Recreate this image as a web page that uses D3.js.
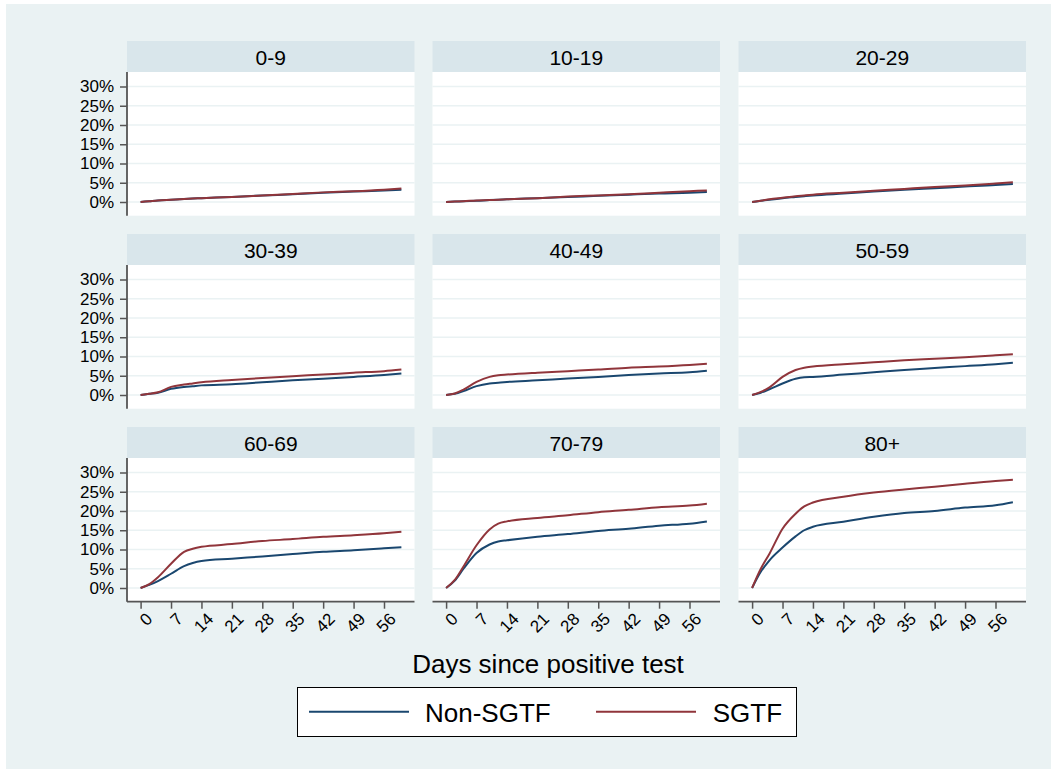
<!DOCTYPE html>
<html><head><meta charset="utf-8">
<script src="https://cdn.jsdelivr.net/npm/d3@7"></script>
<style>body{margin:0;background:#fff}svg{display:block}text{font-family:"Liberation Sans",Arial,sans-serif;fill:#000}</style>
</head><body>
<script>
const ageGroups = ["0-9","10-19","20-29","30-39","40-49","50-59","60-69","70-79","80+"];
const days = [0, 2, 4, 7, 10, 12, 14, 21, 28, 35, 42, 49, 56, 60];
const xTicks = [0, 7, 14, 21, 28, 35, 42, 49, 56];
const yTicks = [0, 5, 10, 15, 20, 25, 30];
const seriesNames = ["Non-SGTF", "SGTF"];
const nonSGTF = [
  [0, 0.2, 0.4, 0.6, 0.8, 0.9, 1.0, 1.3, 1.7, 2.0, 2.4, 2.7, 3.0, 3.2],
  [0, 0.1, 0.2, 0.3, 0.5, 0.6, 0.7, 1.0, 1.3, 1.6, 1.9, 2.2, 2.4, 2.6],
  [0, 0.3, 0.6, 1.0, 1.3, 1.5, 1.7, 2.2, 2.7, 3.2, 3.6, 4.0, 4.4, 4.7],
  [0, 0.3, 0.6, 1.6, 2.1, 2.3, 2.5, 2.8, 3.3, 3.8, 4.2, 4.7, 5.2, 5.6],
  [0, 0.3, 1.0, 2.3, 3.0, 3.2, 3.4, 3.8, 4.3, 4.7, 5.2, 5.6, 5.9, 6.3],
  [0, 0.6, 1.5, 3.0, 4.2, 4.6, 4.7, 5.3, 5.9, 6.5, 7.0, 7.5, 8.0, 8.4],
  [0, 0.8, 1.8, 3.7, 5.7, 6.5, 7.0, 7.6, 8.2, 8.8, 9.4, 9.8, 10.3, 10.6],
  [0, 1.9, 5.0, 9.1, 11.3, 12.1, 12.4, 13.3, 14.0, 14.8, 15.4, 16.2, 16.7, 17.3],
  [0, 4.2, 7.2, 10.5, 13.4, 15.0, 15.9, 17.2, 18.5, 19.5, 20.0, 20.9, 21.5, 22.3]
];
const SGTF = [
  [0, 0.2, 0.4, 0.6, 0.8, 0.9, 1.0, 1.3, 1.7, 2.1, 2.5, 2.8, 3.2, 3.5],
  [0, 0.1, 0.2, 0.4, 0.5, 0.6, 0.7, 1.0, 1.4, 1.7, 2.0, 2.4, 2.8, 3.0],
  [0, 0.3, 0.7, 1.1, 1.5, 1.7, 1.9, 2.4, 2.9, 3.4, 3.9, 4.3, 4.8, 5.1],
  [0, 0.3, 0.7, 2.1, 2.7, 3.0, 3.3, 3.9, 4.4, 4.9, 5.3, 5.8, 6.2, 6.6],
  [0, 0.4, 1.4, 3.4, 4.7, 5.1, 5.3, 5.8, 6.2, 6.6, 7.1, 7.4, 7.8, 8.1],
  [0, 0.8, 2.0, 4.7, 6.5, 7.1, 7.4, 8.0, 8.5, 9.0, 9.4, 9.8, 10.3, 10.6],
  [0, 1.0, 2.8, 6.3, 9.4, 10.2, 10.7, 11.4, 12.2, 12.7, 13.3, 13.7, 14.2, 14.6],
  [0, 2.1, 5.6, 11.1, 15.2, 16.7, 17.3, 18.2, 18.9, 19.7, 20.3, 21.0, 21.4, 21.9],
  [0, 5.0, 8.9, 15.4, 19.3, 21.2, 22.2, 23.7, 24.8, 25.6, 26.3, 27.1, 27.8, 28.1]
];
const colors = ["#1a476f", "#90353b"];

const W = 1051, H = 769;
const svg = d3.select("body").append("svg").attr("width", W).attr("height", H);
svg.append("rect").attr("x", 6).attr("y", 4).attr("width", W - 6).attr("height", H - 4).attr("fill", "#eaf2f3");

const colLeft = [127, 432.5, 738.5], pw = 287.5;
const rowTop = [41, 234, 427], stripH = 31, ph = 143.7;

ageGroups.forEach((g, i) => {
  const c = i % 3, r = Math.floor(i / 3);
  const L = colLeft[c], T = rowTop[r] + stripH;
  const x = d3.scaleLinear().domain([0, 56]).range([L + 13.6, L + 257]);
  const y = d3.scaleLinear().domain([0, 30]).range([T + 130, T + 14.5]);
  svg.append("rect").attr("x", L).attr("y", rowTop[r]).attr("width", pw).attr("height", stripH).attr("fill", "#d9e6eb");
  svg.append("text").attr("x", L + pw / 2).attr("y", rowTop[r] + 24).attr("text-anchor", "middle").attr("font-size", 21).text(g);
  svg.append("rect").attr("x", L).attr("y", T).attr("width", pw).attr("height", ph).attr("fill", "#fff");
  const gg = svg.append("g");
  gg.selectAll("line.grid").data(yTicks).join("line")
    .attr("x1", L).attr("x2", L + pw).attr("y1", d => y(d)).attr("y2", d => y(d))
    .attr("stroke", "#eaf2f3").attr("stroke-width", 1.6);
  if (c === 0) {
    const ax = svg.append("g").attr("transform", `translate(${L},0)`)
      .call(d3.axisLeft(y).tickValues(yTicks).tickFormat(d => d + "%").tickSize(7).tickPadding(6));
    ax.select(".domain").attr("stroke", "#555").attr("stroke-width", 1.8).attr("d", `M0,${T}V${T + ph}`);
    ax.selectAll(".tick line").attr("stroke", "#555").attr("stroke-width", 1.5);
    ax.selectAll(".tick text").attr("font-size", 17).attr("font-family", "Liberation Sans, Arial, sans-serif").attr("fill", "#000");
  }
  if (r === 2) {
    const ax = svg.append("g").attr("transform", `translate(0,${T + ph})`)
      .call(d3.axisBottom(x).tickValues(xTicks).tickSize(7).tickPadding(2));
    ax.select(".domain").attr("stroke", "#555").attr("stroke-width", 1.8).attr("d", `M${L},0H${L + pw}`);
    ax.selectAll(".tick line").attr("stroke", "#555").attr("stroke-width", 1.5);
    ax.selectAll(".tick text").attr("font-size", 17).attr("font-family", "Liberation Sans, Arial, sans-serif").attr("fill", "#000")
      .attr("text-anchor", "end").attr("dy", "0.7em").attr("y", 0)
      .attr("transform", "translate(4,10) rotate(-45)");
  }
  const line = d3.line().x((d, k) => x(days[k])).y(d => y(d)).curve(d3.curveMonotoneX);
  [nonSGTF[i], SGTF[i]].forEach((vals, s) => {
    svg.append("path").attr("d", line(vals)).attr("fill", "none")
      .attr("stroke", colors[s]).attr("stroke-width", 2);
  });
});

svg.append("text").attr("x", 548).attr("y", 673).attr("text-anchor", "middle").attr("font-size", 26).text("Days since positive test");

const lg = svg.append("g");
lg.append("rect").attr("x", 297.5).attr("y", 687.5).attr("width", 499).attr("height", 49).attr("fill", "#fff").attr("stroke", "#000").attr("stroke-width", 1);
const legX = [[309, 409, 425], [596, 696, 712.7]];
seriesNames.forEach((n, s) => {
  lg.append("line").attr("x1", legX[s][0]).attr("x2", legX[s][1]).attr("y1", 711.7).attr("y2", 711.7).attr("stroke", colors[s]).attr("stroke-width", 2);
  lg.append("text").attr("x", legX[s][2]).attr("y", 721.5).attr("font-size", 26).text(n);
});
</script>
</body></html>
